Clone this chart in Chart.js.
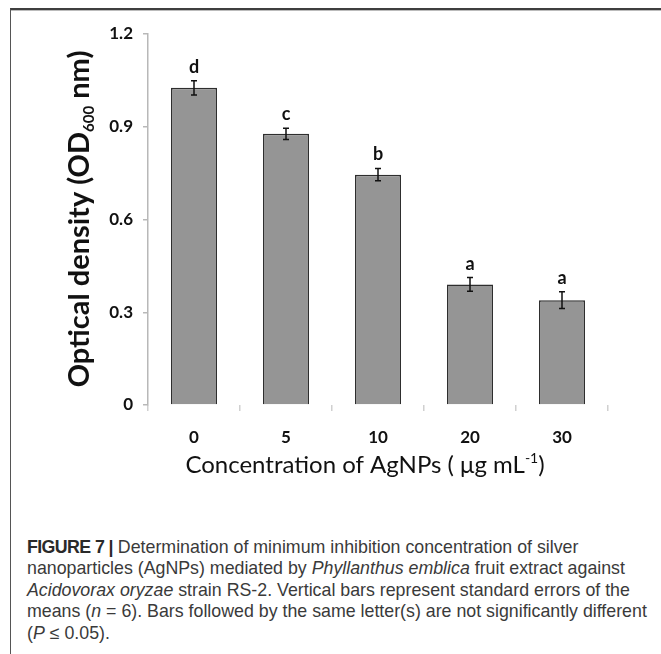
<!DOCTYPE html>
<html>
<head>
<meta charset="utf-8">
<script src="https://cdn.jsdelivr.net/npm/chart.js@4.4.1/dist/chart.umd.min.js"></script>
<style>
  html, body { margin: 0; padding: 0; background: #fff; }
  body { width: 661px; height: 654px; position: relative; overflow: hidden; }
  #frame { position: absolute; left: 10px; top: 8px; right: 0; bottom: 0;
           border-top: 2px solid #3f3f3f; border-left: 1.5px solid #555; }
  #frame:before { content: ""; position: absolute; left: 0; right: 0; top: 0; height: 1px; background: #bbb; }
  #c { position: absolute; left: 0; top: 0; }
  #cap { position: absolute; left: 27px; top: 537px; font-family: "Liberation Sans", Arial, sans-serif;
         font-size: 17.8px; line-height: 21.4px; color: #3a3a3a; white-space: nowrap; }
  #cap b { color: #2a2a2a; letter-spacing: -0.6px; }
</style>
</head>
<body>
<div id="frame"></div>
<canvas id="c" width="661" height="520"></canvas>
<div id="cap">
<b>FIGURE 7 |</b> Determination of minimum inhibition concentration of silver<br>
nanoparticles (AgNPs) mediated by <i>Phyllanthus emblica</i> fruit extract against<br>
<i>Acidovorax oryzae</i> strain RS-2. Vertical bars represent standard errors of the<br>
means (<i>n</i> = 6). Bars followed by the same letter(s) are not significantly different<br>
(<i>P</i> &le; 0.05).
</div>
<script>
const categories = ['0', '5', '10', '20', '30'];
const meanOD = [1.026, 0.877, 0.745, 0.390, 0.339];
const stdErr = [0.023, 0.018, 0.020, 0.022, 0.027];
const letters = ['d', 'c', 'b', 'a', 'a'];
const yTicks = [0, 0.3, 0.6, 0.9, 1.2];
const yTickLabels = ['0', '0.3', '0.6', '0.9', '1.2'];

const FONT = 'Lato, "DejaVu Sans", sans-serif';

const decorPlugin = {
  id: 'decor',
  afterDatasetsDraw(chart) {
    const ctx = chart.ctx;
    const y = chart.scales.y;
    const meta = chart.getDatasetMeta(0);
    ctx.save();
    ctx.strokeStyle = '#111';
    ctx.lineWidth = 1.5;
    meta.data.forEach((bar, i) => {
      const cx = bar.x;
      const yt = y.getPixelForValue(meanOD[i] + stdErr[i]);
      const yb = y.getPixelForValue(meanOD[i] - stdErr[i]);
      ctx.beginPath();
      ctx.moveTo(cx, yt); ctx.lineTo(cx, yb);
      ctx.moveTo(cx - 3, yt); ctx.lineTo(cx + 3, yt);
      ctx.moveTo(cx - 3, yb); ctx.lineTo(cx + 3, yb);
      ctx.stroke();
      ctx.fillStyle = '#111';
      ctx.font = 'bold 18px ' + FONT;
      ctx.textAlign = 'center';
      ctx.textBaseline = 'alphabetic';
      ctx.fillText(letters[i], cx, yt - 8);
    });
    ctx.restore();
  },
  afterDraw(chart) {
    const ctx = chart.ctx;
    ctx.save();
    ctx.fillStyle = '#111';
    const parts = [
      { t: 'Optical density (OD', f: 'bold 29px ' + FONT, dy: 0 },
      { t: '600', f: 'bold 15px ' + FONT, dy: 5 },
      { t: ' nm)', f: 'bold 29px ' + FONT, dy: 0 }
    ];
    let total = 0;
    parts.forEach(p => { ctx.font = p.f; p.w = ctx.measureText(p.t).width; total += p.w; });
    ctx.translate(89, 219);
    ctx.rotate(-Math.PI / 2);
    ctx.textBaseline = 'alphabetic';
    ctx.textAlign = 'left';
    let px = -total / 2;
    parts.forEach(p => { ctx.font = p.f; ctx.fillText(p.t, px, p.dy); px += p.w; });
    ctx.setTransform(1, 0, 0, 1, 0, 0);
    const xp = [
      { t: 'Concentration of AgNPs ( \u03bcg mL', f: '24px ' + FONT, dy: 0 },
      { t: '-1', f: '14px ' + FONT, dy: -10 },
      { t: ')', f: '24px ' + FONT, dy: 0 }
    ];
    total = 0;
    xp.forEach(p => { ctx.font = p.f; p.w = ctx.measureText(p.t).width; total += p.w; });
    px = 365 - total / 2;
    xp.forEach(p => { ctx.font = p.f; ctx.fillText(p.t, px, 473 + p.dy); px += p.w; });
    ctx.restore();
  }
};

new Chart(document.getElementById('c'), {
  type: 'bar',
  data: {
    labels: categories,
    datasets: [{
      data: meanOD,
      backgroundColor: '#959595',
      borderColor: '#2e2e2e',
      borderWidth: 1.5,
      barPercentage: 0.5,
      categoryPercentage: 1.0
    }]
  },
  options: {
    responsive: false,
    animation: false,
    devicePixelRatio: 1,
    layout: { padding: { left: 0, right: 53, top: 34, bottom: 0 } },
    plugins: { legend: { display: false }, tooltip: { enabled: false } },
    scales: {
      x: {
        grid: { display: true, drawOnChartArea: false, drawTicks: true, tickLength: 6, color: '#d0d0d0', lineWidth: 1.5 },
        border: { display: false },
        ticks: { color: '#111', font: { family: FONT, size: 17, weight: 'bold' }, padding: 16 },
        afterFit(scale) { scale.height = 115; }
      },
      y: {
        min: 0, max: 1.2,
        afterBuildTicks(scale) { scale.ticks = yTicks.map(v => ({ value: v })); },
        grid: { display: true, drawOnChartArea: false, drawTicks: true, tickLength: 5, color: '#b8b8b8', lineWidth: 1.5 },
        border: { display: true, color: '#b8b8b8', width: 1.5 },
        ticks: {
          color: '#111', font: { family: FONT, size: 17, weight: 'bold' }, padding: 10,
          callback(v, i) { return yTickLabels[i]; }
        },
        afterFit(scale) { scale.width = 148; }
      }
    }
  },
  plugins: [decorPlugin]
});
</script>
</body>
</html>
